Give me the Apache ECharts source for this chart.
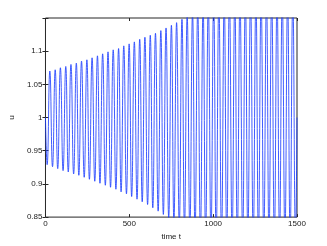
<!DOCTYPE html>
<html><head><meta charset="utf-8">
<script src="https://cdn.jsdelivr.net/npm/echarts@6/dist/echarts.min.js"></script>
<style>html,body{margin:0;padding:0;background:#fff}#c{width:327px;height:246px}</style>
</head><body><div id="c"></div>
<script>
// Extrema of the oscillation (time t, value u)
const peakTimes = [26, 58, 89, 121, 152, 184, 215, 247, 278, 310, 341, 373, 404, 436, 467, 499, 530, 562, 593, 625, 656, 688, 719, 751, 782, 814, 845, 877, 908, 940, 971, 1003, 1034, 1066, 1097, 1129, 1160, 1192, 1223, 1255, 1286, 1318, 1349, 1381, 1412, 1444, 1475];
const peakValues = [1.070, 1.072, 1.075, 1.077, 1.080, 1.082, 1.085, 1.087, 1.090, 1.093, 1.096, 1.099, 1.102, 1.104, 1.108, 1.111, 1.114, 1.118, 1.121, 1.124, 1.127, 1.131, 1.135, 1.139, 1.143,
  1.148, 1.153, 1.158, 1.162, 1.166, 1.170, 1.172, 1.174, 1.175, 1.176,
  1.177, 1.177, 1.177, 1.177, 1.177, 1.177, 1.177, 1.177, 1.177, 1.177, 1.177, 1.177];
const troughTimes = [10, 42, 73, 105, 136, 168, 199, 231, 262, 294, 325, 357, 388, 420, 451, 483, 514, 546, 577, 609, 640, 672, 703, 735, 766, 798, 829, 861, 892, 924, 955, 987, 1018, 1050, 1081, 1113, 1144, 1176, 1207, 1239, 1270, 1302, 1333, 1365, 1396, 1428, 1459, 1491];
const troughValues = [0.929, 0.926, 0.923, 0.920, 0.918, 0.915, 0.913, 0.910, 0.907, 0.904, 0.901, 0.898, 0.895, 0.892, 0.888, 0.885, 0.881, 0.877, 0.873, 0.869, 0.864, 0.859, 0.854,
  0.849, 0.844, 0.839, 0.835, 0.831, 0.828, 0.826, 0.825, 0.824,
  0.823, 0.823, 0.823, 0.823, 0.823, 0.823, 0.823, 0.823, 0.823, 0.823, 0.823, 0.823, 0.823, 0.823, 0.823, 0.823];
const startPoint = [0, 1.0];
const endPoint = [1500, 1.0];
const xTicks = [0, 500, 1000, 1500];
const yTickLabels = ['0.85', '0.9', '0.95', '1', '1.05', '1.1'];

const pts = [startPoint];
peakTimes.forEach((t, i) => pts.push([t, peakValues[i]]));
troughTimes.forEach((t, i) => pts.push([t, troughValues[i]]));
pts.push(endPoint);
pts.sort((a, b) => a[0] - b[0]);

const font = 'Liberation Sans, Arial, Helvetica, sans-serif';
const chart = echarts.init(document.getElementById('c'), null, {renderer: 'canvas'});
const yFmt = v => { const s = String(parseFloat(v.toFixed(2))); return yTickLabels.includes(s) ? s : ''; };
const xFmt = v => xTicks.includes(Math.round(v)) ? String(Math.round(v)) : '';
const tick = {show: true, inside: true, length: 3, lineStyle: {color: '#262626', width: 1}};
chart.setOption({
  animation: false,
  grid: {left: 42, right: 30, top: 18, bottom: 27, show: true, borderColor: '#262626', borderWidth: 1, backgroundColor: '#fff'},
  xAxis: [
    {type: 'value', min: 0, max: 1500, interval: 500, position: 'bottom',
     name: 'time t', nameLocation: 'middle', nameGap: 12,
     nameTextStyle: {fontFamily: font, fontSize: 8, color: '#1a1a1a'},
     axisLine: {show: false}, axisTick: tick, splitLine: {show: false},
     axisLabel: {formatter: xFmt, fontFamily: font, fontSize: 8, color: '#1a1a1a', margin: 3}},
    {type: 'value', min: 0, max: 1500, interval: 500, position: 'top',
     axisLine: {show: false}, axisTick: tick, splitLine: {show: false}, axisLabel: {show: false}}
  ],
  yAxis: [
    {type: 'value', min: 0.85, max: 1.15, interval: 0.05, position: 'left',
     name: 'u', nameLocation: 'middle', nameGap: 21, nameRotate: 90,
     nameTextStyle: {fontFamily: font, fontSize: 8, color: '#1a1a1a'},
     axisLine: {show: false}, axisTick: tick, splitLine: {show: false},
     axisLabel: {formatter: yFmt, fontFamily: font, fontSize: 8, color: '#1a1a1a', margin: 3}},
    {type: 'value', min: 0.85, max: 1.15, interval: 0.05, position: 'right',
     axisLine: {show: false}, axisTick: tick, splitLine: {show: false}, axisLabel: {show: false}}
  ],
  series: [{
    type: 'line', xAxisIndex: 0, yAxisIndex: 0, data: pts, showSymbol: false,
    smooth: 0.5, clip: true,
    lineStyle: {color: '#1f40ff', width: 0.85}
  }]
});
</script></body></html>
